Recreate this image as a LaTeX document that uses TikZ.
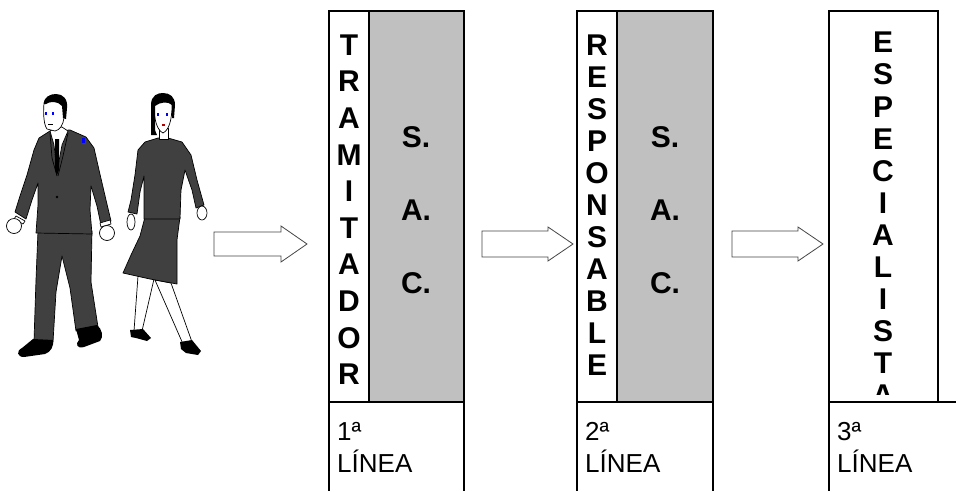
\documentclass[tikz,border=0pt]{standalone}
\usepackage{fontspec}
\setmainfont{Liberation Sans}
\definecolor{sacgray}{RGB}{192,192,192}
\definecolor{suit}{RGB}{64,64,64}
\definecolor{eyeblue}{RGB}{0,0,255}
\definecolor{arrowline}{RGB}{70,70,70}
\begin{document}
\begin{tikzpicture}[x=1pt,y=-1pt,
  frame/.style={line width=2.8pt},
  letter/.style={font=\fontsize{30}{30}\selectfont\bfseries, inner sep=0pt, anchor=center},
  lineatext/.style={font=\fontsize{26}{26}\selectfont, inner sep=0pt, anchor=base west},
  blockarrow/.style={fill=white, draw=arrowline, line width=0.8pt, line join=miter},
  figline/.style={draw=black, line width=0.7pt, line join=round},
]
\useasboundingbox (0,0) rectangle (956,491);
\fill[white] (0,0) rectangle (956,491);

% ---------- walking man ----------
% trousers
\filldraw[fill=suit, figline] (38,231) -- (36,280) -- (34,341) -- (53,342) -- (56,292) -- (62,256) -- (70,288) -- (76,331) -- (98,327) -- (91,282) -- (92,231) -- cycle;
% shoes
\fill[black] (33,339) -- (53,340) .. controls (54,346) and (51,352) .. (45,354) -- (24,357) .. controls (17,357) and (16,351) .. (22,348) -- cycle;
\fill[black] (76,329) -- (97,325) .. controls (102,329) and (104,337) .. (100,341) -- (84,347) .. controls (77,349) and (75,344) .. (79,340) -- cycle;
% jacket with sleeves
\filldraw[fill=suit, figline] (50,131) -- (39,138) -- (34,150) -- (27,175) -- (20,196) -- (15,212) -- (26,219) -- (32,200) -- (38,183) -- (38,205) -- (36,233) -- (92,234) -- (90,210) -- (91,186) -- (97,206) -- (101,225) -- (111,221) -- (106,200) -- (99,170) -- (94,148) -- (86,137) -- (70,130) -- cycle;
% shirt and tie
\filldraw[fill=white, figline] (50,131) -- (54,145) -- (57,172) -- (62,145) -- (68,131) -- (62,127) -- (56,128) -- cycle;
\fill[black] (55,139) -- (59,139) -- (59,170) -- (57,175) -- (55,170) -- cycle;
\draw[figline] (50,133) -- (52,158) -- (57,176);
\draw[figline] (68,133) -- (63,156) -- (58,176);
\fill[black] (57,197) circle (1.3);
\fill[eyeblue] (82,138) rectangle (85,143);
% hands and cuffs
\filldraw[fill=white, figline] (16,216) -- (25,221) -- (23,224) -- (14,219) -- cycle;
\filldraw[fill=white, figline] (100,223) -- (110,220) -- (111,224) -- (101,227) -- cycle;
\filldraw[fill=white, figline] (14,226) circle (7.5);
\filldraw[fill=white, figline] (107,233) circle (7.5);
% head
\filldraw[fill=white, figline] (44,103) .. controls (43,115) and (44,125) .. (47,129) -- (55,131) .. controls (60,130) and (63,125) .. (64,118) -- (66,110) .. controls (67,100) and (62,95) .. (55,95) .. controls (49,95) and (45,98) .. (44,103) -- cycle;
\fill[black] (44,104) .. controls (44,97) and (50,94) .. (56,94) .. controls (63,94) and (68,99) .. (67,108) -- (66,119) -- (63,118) -- (62,106) .. controls (58,101) and (50,101) .. (46,104) -- cycle;
\fill[eyeblue] (45,112) rectangle (47,115);
\fill[eyeblue] (52,112) rectangle (54,115);
\draw[figline] (48,124) -- (53,124);

% ---------- walking woman ----------
% legs
\filldraw[fill=white, figline] (138,276) -- (154,279) -- (142,331) -- (134,331) -- cycle;
\filldraw[fill=white, figline] (155,280) -- (171,283) -- (192,342) -- (183,344) -- cycle;
% shoes
\fill[black] (130,330) -- (143,329) -- (151,338) -- (147,341) -- (136,338) -- (131,337) -- cycle;
\fill[black] (180,342) -- (192,340) -- (201,351) -- (198,355) -- (186,353) -- (181,349) -- cycle;
% skirt
\filldraw[fill=suit, figline] (145,217) -- (180,217) -- (177,240) -- (177,284) -- (150,279) -- (123,273) -- (131,255) -- (140,236) -- cycle;
% sweater with sleeves
\filldraw[fill=suit, figline] (158,138) -- (145,142) -- (138,150) -- (135,175) -- (131,200) -- (128,212) -- (137,214) -- (140,192) -- (144,176) -- (144,219) -- (180,219) -- (181,190) -- (185,170) -- (192,190) -- (196,208) -- (204,205) -- (197,180) -- (191,155) -- (182,142) -- (168,138) -- cycle;
% hands
\filldraw[fill=white, figline] (131,222) ellipse (4 and 8);
\filldraw[fill=white, figline] (202,213) ellipse (5 and 7);
% neck and head
\filldraw[fill=white, figline] (159,128) rectangle (168,139);
\filldraw[fill=white, figline] (154,105) .. controls (154,120) and (157,130) .. (163,133) .. controls (169,130) and (172,120) .. (172,105) .. controls (172,98) and (154,98) .. (154,105) -- cycle;
\fill[black] (151,135) -- (151,105) .. controls (151,95) and (158,93) .. (163,93) .. controls (170,93) and (175,97) .. (175,105) -- (174,118) -- (172,118) -- (172,105) .. controls (168,101) and (160,102) .. (155,106) -- (155,130) -- (157,135) -- cycle;
\fill[eyeblue] (157,113) rectangle (159,116);
\fill[eyeblue] (166,113) rectangle (168,116);
\fill[red!70!black] (162,124) rectangle (165,126);

% ---------- block arrows ----------
\draw[blockarrow] (214,232) -- (281,232) -- (281,226) -- (307,244) -- (281,262) -- (281,256) -- (214,256) -- cycle;
\draw[blockarrow] (482,231) -- (548,231) -- (548,227) -- (573,244) -- (548,261) -- (548,257) -- (482,257) -- cycle;
\draw[blockarrow] (732,231) -- (798,231) -- (798,227) -- (823,244) -- (798,261) -- (798,257) -- (732,257) -- cycle;

% ---------- first line: tramitador ----------
\fill[sacgray] (369,11) rectangle (464,402);
\draw[frame] (329,11) rectangle (464,402);
\draw[frame] (369,11) -- (369,402);
\draw[frame] (329,402) -- (329,491);
\draw[frame] (464,402) -- (464,491);
\foreach \ch [count=\i from 0] in {T,R,A,M,I,T,A,D,O,R}
  \node[letter] (tram\i) at (349,45+36.6*\i) {\ch};
\node[letter] (sac1s) at (416,137) {S.};
\node[letter] (sac1a) at (416,210) {A.};
\node[letter] (sac1c) at (416,283) {C.};
\node[lineatext] (ord1) at (337,440) {1ª};
\node[lineatext] (lin1) at (337,472) {LÍNEA};

% ---------- second line: responsable ----------
\fill[sacgray] (617,11) rectangle (713,402);
\draw[frame] (577,11) rectangle (713,402);
\draw[frame] (617,11) -- (617,402);
\draw[frame] (577,402) -- (577,491);
\draw[frame] (713,402) -- (713,491);
\foreach \ch [count=\i from 0] in {R,E,S,P,O,N,S,A,B,L,E}
  \node[letter] (resp\i) at (597,45+32*\i) {\ch};
\node[letter] (sac2s) at (665,137) {S.};
\node[letter] (sac2a) at (665,210) {A.};
\node[letter] (sac2c) at (665,283) {C.};
\node[lineatext] (ord2) at (585,440) {2ª};
\node[lineatext] (lin2) at (585,472) {LÍNEA};

% ---------- third line: especialista ----------
\begin{scope}
  \clip (829,11) rectangle (938,394.5);
  \foreach \ch [count=\i from 0] in {E,S,P,E,C,I,A,L,I,S,T,A}
    \node[letter] (esp\i) at (883,42.5+32.1*\i) {\ch};
\end{scope}
\draw[frame] (829,11) rectangle (938,402);
\draw[frame] (829,402) -- (956,402);
\draw[frame] (829,402) -- (829,491);
\node[lineatext] (ord3) at (837,440) {3ª};
\node[lineatext] (lin3) at (837,472) {LÍNEA};
\end{tikzpicture}
\end{document}
